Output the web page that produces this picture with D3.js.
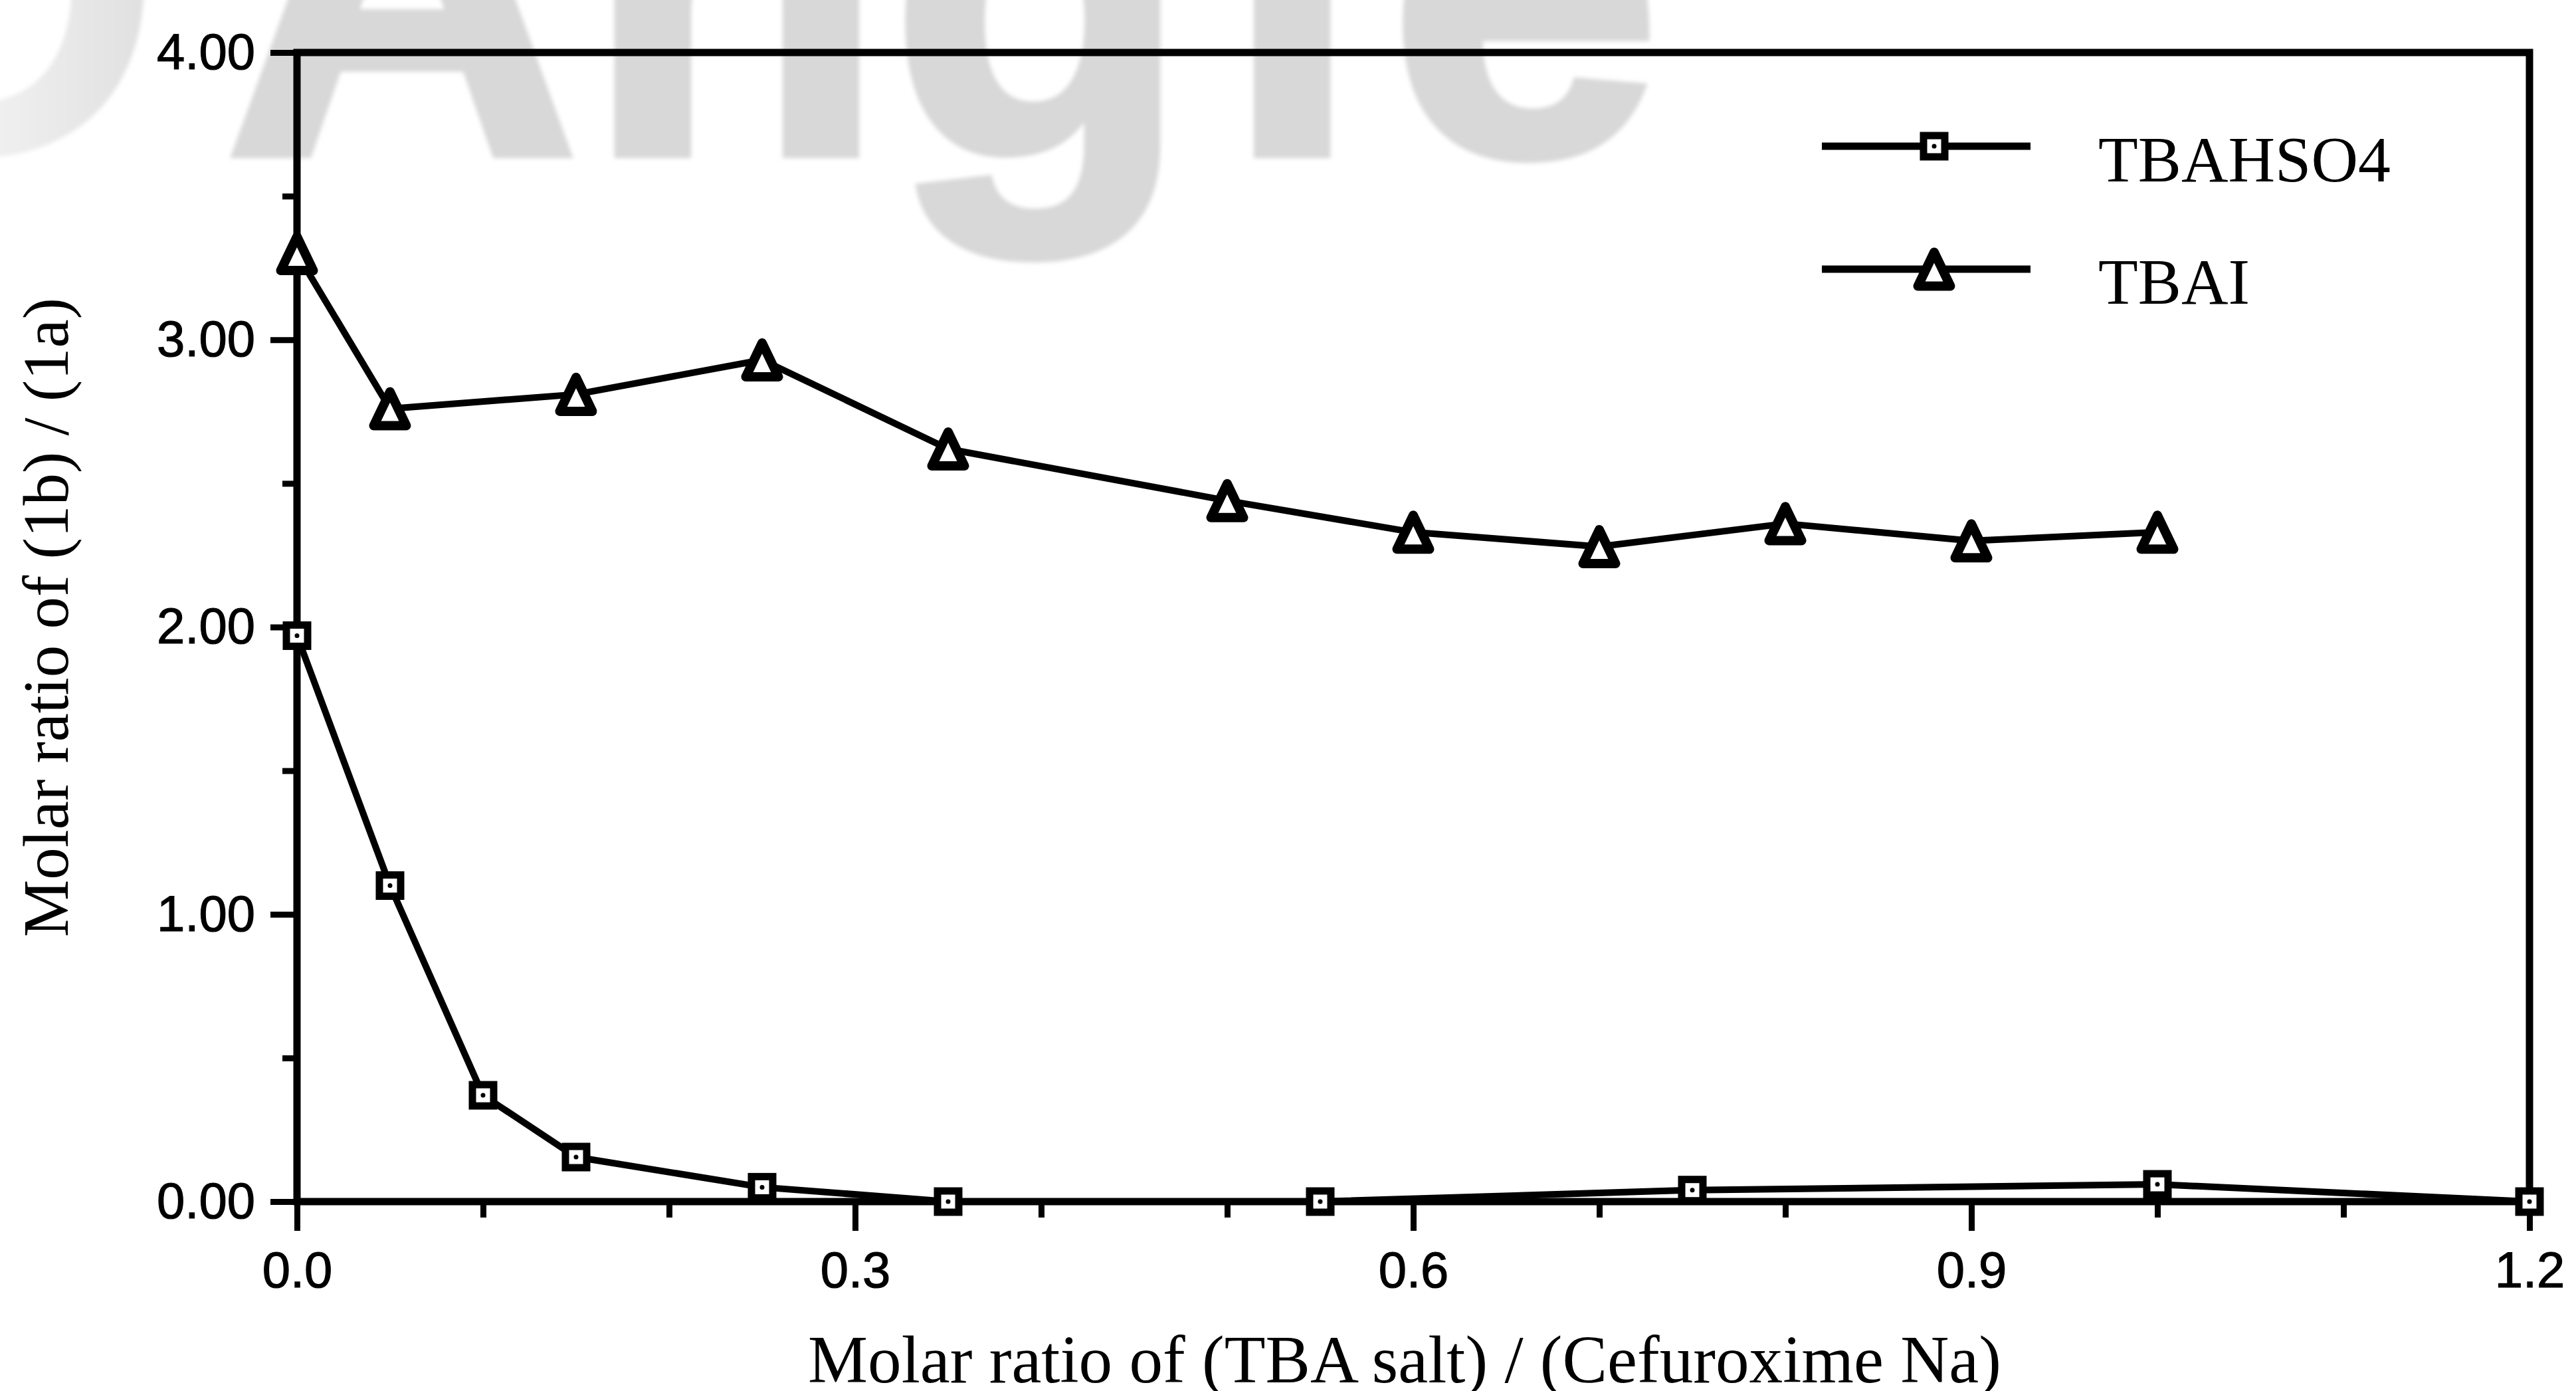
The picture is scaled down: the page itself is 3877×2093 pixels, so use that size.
<!DOCTYPE html>
<html><head><meta charset="utf-8">
<script src="https://cdn.jsdelivr.net/npm/d3@7"></script>
<style>html,body{margin:0;padding:0;background:#fff;} svg{display:block}</style>
</head><body>
<script>
// ---------- data ----------
const xTicksMajor = [0, 0.3, 0.6, 0.9, 1.2];
const xTicksMinor = [0.1, 0.2, 0.4, 0.5, 0.7, 0.8, 1.0, 1.1];
const yTicksMajor = [0, 1, 2, 3, 4];
const yTicksMinor = [0.5, 1.5, 2.5, 3.5];
const seriesNames = ["TBAHSO4", "TBAI"];
const xTBAHSO4 = [0, 0.05, 0.1, 0.15, 0.25, 0.35, 0.55, 0.75, 1.0, 1.2];
const yTBAHSO4 = [1.97, 1.10, 0.37, 0.155, 0.05, 0.0, 0.0, 0.04, 0.06, 0.0];
const xTBAI = [0, 0.05, 0.15, 0.25, 0.35, 0.5, 0.6, 0.7, 0.8, 0.9, 1.0];
const yTBAI = [3.30, 2.76, 2.81, 2.93, 2.62, 2.44, 2.33, 2.28, 2.36, 2.30, 2.33];
const xTitle = "Molar ratio of (TBA salt) / (Cefuroxime Na)";
const yTitle = "Molar ratio of (1b) / (1a)";
const watermarkText = ["O", "A", "n", "g", "l", "e"];

// ---------- layout ----------
const W = 3877, H = 2093;
const X0 = 447, X1 = 3807, Y0 = 1808, Y1 = 79;
const svg = d3.select("body").append("svg").attr("width", W).attr("height", H);
svg.append("rect").attr("width", W).attr("height", H).attr("fill", "#fff");

const x = d3.scaleLinear().domain([0, 1.2]).range([X0, X1]);
const y = d3.scaleLinear().domain([0, 4]).range([Y0, Y1]);

// ---------- watermark ----------
const defs = svg.append("defs");
defs.append("filter").attr("id", "soft").append("feGaussianBlur").attr("stdDeviation", 3);
const grad = defs.append("linearGradient").attr("id", "fade").attr("x1", "0").attr("x2", "1").attr("y1", "0").attr("y2", "0");
grad.append("stop").attr("offset", "0.45").attr("stop-color", "#f4f4f4");
grad.append("stop").attr("offset", "1").attr("stop-color", "#dedede");
const wmX = [-40, 605, 1106, 1565, 1945, 2295];
const wm = svg.append("g").attr("filter", "url(#soft)")
  .attr("font-family", "Liberation Sans, Arial, sans-serif").attr("font-weight", "bold")
  .attr("font-size", 740).attr("text-anchor", "middle");
wm.selectAll("text").data(watermarkText).join("text")
  .attr("x", (d, i) => wmX[i]).attr("y", 231)
  .attr("fill", (d, i) => i === 0 ? "url(#fade)" : "#d8d8d8")
  .attr("stroke", (d, i) => i === 0 ? "none" : "#d8d8d8")
  .attr("stroke-width", 14)
  .text(d => d);

// ---------- axes ----------
const tickFont = "Liberation Sans, Arial, sans-serif";
function styleAxis(g) {
  g.select(".domain").remove();
  g.selectAll(".tick line").attr("stroke", "#000").attr("stroke-width", 9);
  g.selectAll(".tick text").attr("fill", "#000").attr("font-family", tickFont).attr("font-size", 76)
    .attr("stroke", "#000").attr("stroke-width", 1.2);
}
svg.append("g").attr("transform", `translate(0,${Y0})`)
  .call(d3.axisBottom(x).tickValues(xTicksMajor).tickSize(44).tickPadding(31).tickFormat(d3.format(".1f")))
  .call(styleAxis);
svg.append("g").attr("transform", `translate(0,${Y0})`)
  .call(d3.axisBottom(x).tickValues(xTicksMinor).tickSize(24).tickFormat(""))
  .call(styleAxis);
svg.append("g").attr("transform", `translate(${X0},0)`)
  .call(d3.axisLeft(y).tickValues(yTicksMajor).tickSize(40).tickPadding(23).tickFormat(d3.format(".2f")))
  .call(styleAxis);
svg.append("g").attr("transform", `translate(${X0},0)`)
  .call(d3.axisLeft(y).tickValues(yTicksMinor).tickSize(22).tickFormat(""))
  .call(styleAxis);

// frame
svg.append("rect").attr("x", X0).attr("y", Y1).attr("width", X1 - X0).attr("height", Y0 - Y1)
  .attr("fill", "none").attr("stroke", "#000").attr("stroke-width", 11);

// ---------- titles ----------
function fitText(sel, target) {
  const node = sel.node();
  const fs = parseFloat(sel.attr("font-size"));
  const len = node.getComputedTextLength();
  if (len > 0) sel.attr("font-size", fs * target / len);
}
const serif = "Liberation Serif, Times New Roman, serif";
const xt = svg.append("text").attr("x", 2114).attr("y", 2080).attr("text-anchor", "middle")
  .attr("font-family", serif).attr("font-size", 100).attr("fill", "#000").text(xTitle);
fitText(xt, 1796);
const yt = svg.append("text").attr("transform", "translate(102,929) rotate(-90)").attr("text-anchor", "middle")
  .attr("font-family", serif).attr("font-size", 98).attr("fill", "#000").text(yTitle);
fitText(yt, 962);

// ---------- series ----------
const line = d3.line().x(d => x(d[0])).y(d => y(d[1]));
const dataHSO4 = xTBAHSO4.map((v, i) => [v, yTBAHSO4[i]]);
const dataI = xTBAI.map((v, i) => [v, yTBAI[i]]);

svg.append("path").datum(dataHSO4).attr("d", line).attr("fill", "none")
  .attr("stroke", "#000").attr("stroke-width", 10).attr("stroke-linejoin", "round");
svg.append("path").datum(dataI).attr("d", line).attr("fill", "none")
  .attr("stroke", "#000").attr("stroke-width", 10).attr("stroke-linejoin", "round");

function squareMarker(g) {
  g.append("rect").attr("x", -16).attr("y", -16).attr("width", 32).attr("height", 32)
    .attr("fill", "#fff").attr("stroke", "#000").attr("stroke-width", 11);
  g.append("circle").attr("r", 3.5).attr("fill", "#000");
}
const triPath = "M0,-25.5 L24.5,25.5 L-24.5,25.5 Z";
function triMarker(g) {
  g.append("path").attr("d", triPath).attr("fill", "#fff").attr("stroke", "#000")
    .attr("stroke-width", 14).attr("stroke-linejoin", "round");
}
svg.append("g").selectAll("g").data(dataHSO4).join("g")
  .attr("transform", d => `translate(${x(d[0])},${y(d[1])})`)
  .each(function () { squareMarker(d3.select(this)); });
svg.append("g").selectAll("g").data(dataI).join("g")
  .attr("transform", d => `translate(${x(d[0])},${y(d[1])})`)
  .each(function () { triMarker(d3.select(this)); });

// ---------- legend ----------
const legRows = [{ name: seriesNames[0], ly: 220, ty: 273, m: squareMarker, w: 440 },
                 { name: seriesNames[1], ly: 405, ty: 457, m: triMarker, w: null }];
let legendFont = 100;
legRows.forEach((r, i) => {
  const g = svg.append("g");
  g.append("line").attr("x1", 2742).attr("x2", 3056).attr("y1", r.ly).attr("y2", r.ly)
    .attr("stroke", "#000").attr("stroke-width", 11);
  const mg = g.append("g").attr("transform", `translate(2911,${r.ly})`);
  r.m(mg);
  const t = g.append("text").attr("x", 3158).attr("y", r.ty).attr("font-family", serif)
    .attr("font-size", legendFont).attr("fill", "#000").text(r.name);
  if (r.w) { fitText(t, r.w); legendFont = parseFloat(t.attr("font-size")); }
});
</script>
</body></html>
